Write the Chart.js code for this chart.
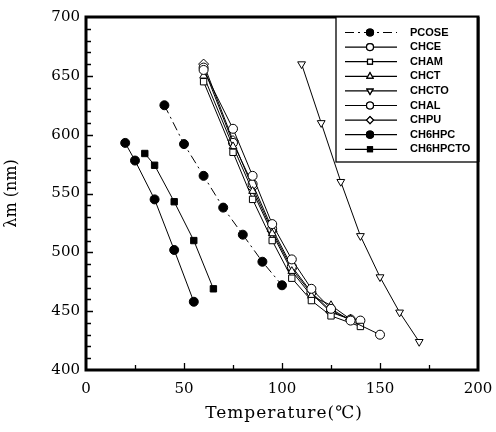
<!DOCTYPE html>
<html>
<head>
<meta charset="utf-8">
<script src="https://cdn.jsdelivr.net/npm/chart.js@4/dist/chart.umd.min.js"></script>
<style>
  html, body { margin: 0; padding: 0; background: #fff; }
  #wrap { width: 496px; height: 432px; }
</style>
</head>
<body>
<div id="wrap"><canvas id="chart" width="496" height="432"></canvas></div>
<script>
// Temperature (°C) and lambda-max (nm) for each compound
const pcoseT = [40, 50, 60, 70, 80, 90, 100];
const pcoseL = [625, 592, 565, 538, 515, 492, 472];

const chceT = [60, 75, 85, 95, 105, 115, 125, 135, 150];
const chceL = [655, 605, 565, 524, 494, 469, 452, 442, 430];

const chamT = [60, 75, 85, 95, 105, 115, 125, 140];
const chamL = [645, 585, 545, 510, 478, 459, 446, 437];

const chctT = [60, 75, 85, 95, 105, 115, 125, 135];
const chctL = [650, 590, 552, 516, 484, 463, 455, 443];

const chctoT = [110, 120, 130, 140, 150, 160, 170];
const chctoL = [660, 610, 560, 514, 479, 449, 424];

const chalT = [60, 75, 85, 95, 105, 115, 125, 135, 140];
const chalL = [657, 593, 558, 520, 488, 466, 450, 443, 442];

const chpuT = [60, 75, 85, 95, 105, 115, 125, 135];
const chpuL = [660, 595, 555, 518, 486, 465, 449, 443];

const ch6hpcT = [20, 25, 35, 45, 55];
const ch6hpcL = [593, 578, 545, 502, 458];

const ch6hpctoT = [30, 35, 45, 55, 65];
const ch6hpctoL = [584, 574, 543, 510, 469];

const xTicks = [0, 50, 100, 150, 200];
const yTicks = [400, 450, 500, 550, 600, 650, 700];

function pts(xs, ys) {
  return xs.map((x, i) => ({ x: x, y: ys[i] }));
}

function series(label, xs, ys, style, filled, dash) {
  return {
    label: label,
    data: pts(xs, ys),
    borderColor: '#000',
    borderWidth: 1,
    borderDash: dash || [],
    pointStyle: style,
    pointRadius: style === 'rectRot' ? 5 : 4.5,
    pointBorderWidth: 1,
    pointBorderColor: '#000',
    pointBackgroundColor: filled ? '#000' : '#fff',
    showLine: true,
    fill: false,
    tension: 0
  };
}

const datasets = [
  series('PCOSE', pcoseT, pcoseL, 'circle', true, [9, 4, 2, 4]),
  series('CHCE', chceT, chceL, 'circle', false),
  series('CHAM', chamT, chamL, 'rect', false),
  series('CHCT', chctT, chctL, 'triangle', false),
  series('CHCTO', chctoT, chctoL, 'triangle', false),
  series('CHAL', chalT, chalL, 'circle', false),
  series('CHPU', chpuT, chpuL, 'rectRot', false),
  series('CH6HPC', ch6hpcT, ch6hpcL, 'circle', true),
  series('CH6HPCTO', ch6hpctoT, ch6hpctoL, 'rect', true)
];
// CHCTO uses an inverted triangle
datasets[4].pointRotation = 180;

// frame, inward ticks, x title and boxed legend
const framePlugin = {
  id: 'frame',
  afterDatasetsDraw(chart) {
    const ctx = chart.ctx;
    const a = chart.chartArea;
    const xs = chart.scales.x, ys = chart.scales.y;
    ctx.save();
    ctx.strokeStyle = '#000';
    // ticks inside the frame
    ctx.lineWidth = 1.3;
    ctx.beginPath();
    for (let v = 25; v < 200; v += 25) {
      const px = Math.round(xs.getPixelForValue(v)) + 0.5;
      const len = v % 50 === 0 ? 7 : 5;
      ctx.moveTo(px, a.bottom);
      ctx.lineTo(px, a.bottom - len);
    }
    for (let v = 410; v < 700; v += 10) {
      const py = Math.round(ys.getPixelForValue(v)) + 0.5;
      const len = v % 50 === 0 ? 7 : 5;
      ctx.moveTo(a.left, py);
      ctx.lineTo(a.left + len, py);
    }
    ctx.stroke();
    ctx.lineWidth = 3;
    ctx.strokeRect(a.left, a.top, a.right - a.left, a.bottom - a.top);

    // x axis title
    ctx.fillStyle = '#000';
    ctx.font = '17px "DejaVu Serif", serif';
    ctx.textAlign = 'center';
    ctx.textBaseline = 'middle';
    ctx.letterSpacing = '1px';
    ctx.fillText('Temperature(℃)', (a.left + a.right) / 2 + 2, 414);
    ctx.letterSpacing = '0px';

    // legend box
    const lx = 336, ly = a.top, lw = a.right - lx, lh = 145;
    ctx.fillStyle = '#fff';
    ctx.fillRect(lx, ly, lw, lh);
    ctx.lineWidth = 1.3;
    ctx.strokeRect(lx, ly, lw, lh);
    ctx.lineWidth = 3;
    ctx.beginPath();
    ctx.moveTo(a.right, a.top);
    ctx.lineTo(a.right, ly + lh);
    ctx.stroke();
    ctx.font = 'bold 11px "Liberation Sans", Arial, sans-serif';
    ctx.textAlign = 'left';
    ctx.textBaseline = 'middle';
    chart.data.datasets.forEach((ds, i) => {
      const y = ly + 15.5 + i * 14.6;
      ctx.strokeStyle = '#000';
      ctx.lineWidth = 1.2;
      ctx.setLineDash(ds.borderDash || []);
      ctx.beginPath();
      ctx.moveTo(345, y);
      ctx.lineTo(397, y);
      ctx.stroke();
      ctx.setLineDash([]);
      Chart.helpers.drawPoint(ctx, {
        pointStyle: ds.pointStyle,
        rotation: ds.pointRotation || 0,
        radius: 3.5,
        borderWidth: 1
      }, 370, y);
      ctx.fillStyle = ds.pointBackgroundColor;
      ctx.strokeStyle = '#000';
      ctx.fill();
      ctx.stroke();
      ctx.fillStyle = '#000';
      ctx.fillText(ds.label, 410, y);
    });
    ctx.restore();
  }
};

const ctx = document.getElementById('chart').getContext('2d');
new Chart(ctx, {
  type: 'scatter',
  data: { datasets: datasets },
  options: {
    responsive: false,
    animation: false,
    layout: { padding: { left: 0, right: 18, top: 17, bottom: 0 } },
    plugins: {
      legend: { display: false },
      tooltip: { enabled: false }
    },
    scales: {
      x: {
        type: 'linear',
        min: 0,
        max: 200,
        afterBuildTicks: s => { s.ticks = xTicks.map(v => ({ value: v })); },
        afterFit: s => { s.height = 62; s.paddingLeft = 0; s.paddingRight = 0; },
        grid: { display: false, drawTicks: false },
        border: { display: false },
        ticks: {
          color: '#000',
          padding: 10,
          maxRotation: 0,
          font: { family: '"DejaVu Serif", serif', size: 15 }
        },
        title: { display: false }
      },
      y: {
        type: 'linear',
        min: 400,
        max: 700,
        afterBuildTicks: s => { s.ticks = yTicks.map(v => ({ value: v })); },
        afterFit: s => { s.width = 86; },
        grid: { display: false, drawTicks: false },
        border: { display: false },
        ticks: {
          color: '#000',
          padding: 6,
          font: { family: '"DejaVu Serif", serif', size: 15 }
        },
        title: {
          display: true,
          text: 'λm (nm)',
          color: '#000',
          padding: { top: 2, bottom: 0 },
          font: { family: '"DejaVu Serif", serif', size: 16 }
        }
      }
    }
  },
  plugins: [framePlugin]
});
</script>
</body>
</html>
